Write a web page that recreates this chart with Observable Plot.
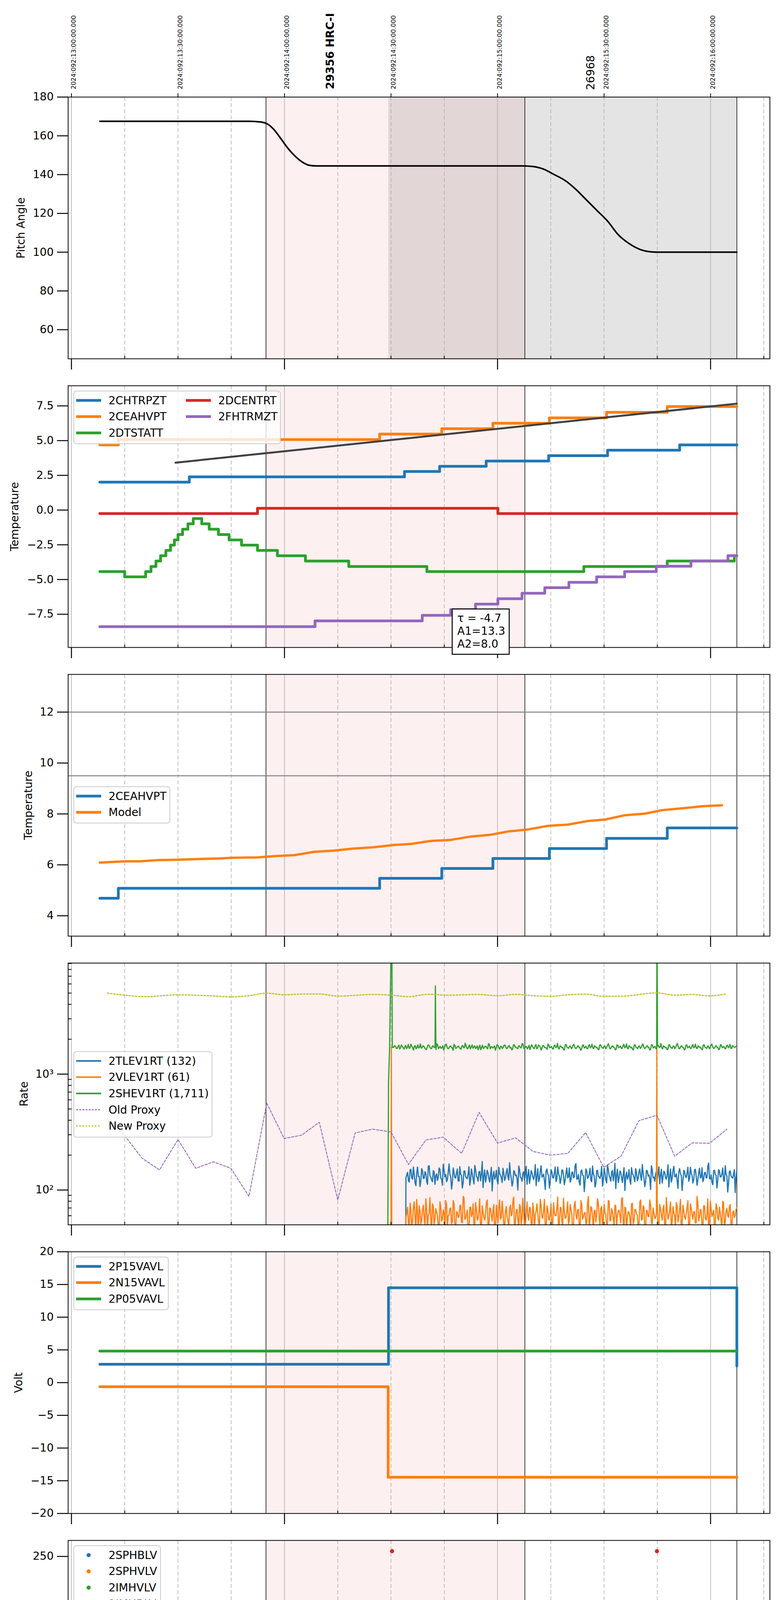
<!DOCTYPE html>
<html><head><meta charset="utf-8">
<script src="https://cdn.jsdelivr.net/npm/d3@7"></script>
<script src="https://cdn.jsdelivr.net/npm/@observablehq/plot@0.6"></script>
<style>
html,body{margin:0;padding:0;background:#fff;}
#root{position:relative;width:2000px;height:6200px;background:#fff;}
</style></head><body><div id="root"></div>
<script>
// ---------------- axis / layout constants ----------------
const FONT = "DejaVu Sans";
const W = 2000, ML = 174, MR = 29, FH = 670;
const X_DOMAIN = [-0.93, 196.7];             // minutes after 09:00 local (13:00 UTC)
const panelTops = [248, 987, 1726, 2465, 3204, 3943, 4682, 5421];

const hourTicks = [0, 60, 120, 180];
const quarterTicks = [15, 30, 45, 75, 90, 105, 135, 150, 165, 195];
const halfHourTicks = [0, 30, 60, 90, 120, 150, 180];
const topTickLabels = ["2024:092:13:00:00.000","2024:092:13:30:00.000","2024:092:14:00:00.000","2024:092:14:30:00.000","2024:092:15:00:00.000","2024:092:15:30:00.000","2024:092:16:00:00.000"];
const hourLabels = ["09h","10h","11h","12h"];
const minorLabels = ["15","30","45","15","30","45","15","30","45","15"];
const xLabel = "2024-04-01 (092)";
const obsBoldT = [71.75], obsBoldText = ["29356 HRC-I"];
const obsT = [145.1], obsText = ["26968"];

const spanPink = [54.8, 127.7];
const spanGrey = [89.3, 187.4];
const blackLines = [54.8, 127.7, 187.4];

// ---------------- panel 1: pitch ----------------
const pitchT = [8, 50, 53, 55, 57, 59, 61, 63, 65, 67, 69, 127, 130, 133, 136, 139, 142, 145, 148, 151, 154, 157, 160, 163, 165, 187.4];
const pitchV = [167.5, 167.5, 167.2, 166.3, 163.3, 158.5, 153.5, 149.5, 146.5, 144.8, 144.5, 144.5, 144.2, 142.8, 140, 137, 132.5, 127, 121.5, 116, 109, 104.5, 101.5, 100.2, 100, 100];

// ---------------- panel 2: temperatures ----------------
const chtrpzt = [[8.0,2.01],[33.2,2.39],[93.8,2.78],[103.7,3.15],[116.8,3.53],[134.4,3.92],[151.0,4.31],[171.3,4.69],[187.4,4.69]];
const ceahvpt = [[8.0,4.69],[13.2,5.08],[86.8,5.47],[104.3,5.86],[118.7,6.25],[134.6,6.64],[150.7,7.04],[167.8,7.45],[187.4,7.45]];
const dtstatt = [[8.0,-4.43],[15.0,-4.81],[20.9,-4.43],[22.4,-4.06],[23.8,-3.67],[25.1,-3.29],[26.6,-2.90],[27.9,-2.52],[29.0,-2.15],[30.0,-1.76],[31.3,-1.38],[32.8,-0.99],[34.3,-0.61],[36.7,-0.99],[38.8,-1.38],[41.4,-1.76],[44.4,-2.15],[47.9,-2.52],[52.4,-2.90],[58.0,-3.29],[65.9,-3.67],[78.1,-4.06],[100.1,-4.43],[144.3,-4.06],[167.8,-3.67],[186.7,-3.29],[187.4,-3.29]];
const dcentrt = [[8.0,-0.25],[52.4,0.13],[120.1,-0.25],[187.4,-0.25]];
const fhtrmzt = [[8.0,-8.39],[68.6,-7.98],[98.8,-7.58],[106.8,-7.17],[113.8,-6.77],[120.1,-6.38],[126.9,-5.99],[133.3,-5.59],[140.1,-5.20],[147.9,-4.81],[155.8,-4.43],[164.7,-4.04],[174.5,-3.66],[184.9,-3.28],[187.4,-3.28]];
const fitLine = [[29.3,3.41],[187.4,7.66]];
const fitText = ["τ = -4.7", "A1=13.3", "A2=8.0"];

// ---------------- panel 3: 2CEAHVPT vs model ----------------
const modelT = [8.0,15.0,19.2,24.8,30.0,36.0,41.4,45.8,52.4,57.1,62.7,68.3,73.9,79.5,85.1,90.7,95.6,101.2,106.8,112.4,118.0,122.9,128.6,134.2,139.8,145.4,150.3,155.9,161.5,166.4,172.0,177.6,183.2];
const modelV = [6.09,6.14,6.14,6.19,6.20,6.23,6.25,6.28,6.29,6.34,6.38,6.51,6.56,6.64,6.69,6.78,6.82,6.94,6.98,7.11,7.18,7.31,7.39,7.53,7.58,7.72,7.78,7.95,8.01,8.15,8.22,8.30,8.34];
const limitLines = [12, 9.5];

// ---------------- panel 4: rates ----------------
const tlev = [128,135,142,121,117,149,151,127,124,158,136,116,109,140,158,131,131,107,120,153,147,126,126,144,139,119,112,161,162,133,129,122,118,147,144,112,133,138,121,129,
155,150,127,124,110,167,149,130,136,118,123,143,168,136,130,102,115,155,141,128,127,141,152,120,119,159,137,134,104,115,146,146,131,127,125,137,159,110,122,152,
138,125,113,163,150,131,128,119,143,145,120,138,176,105,132,149,117,129,148,140,126,117,135,157,98,132,145,124,130,148,121,113,157,139,134,128,116,154,140,121,
127,142,153,130,122,172,139,126,108,117,147,144,133,135,124,100,161,151,129,127,119,139,144,122,136,160,112,133,150,114,128,147,141,129,123,136,166,109,131,153,
118,124,146,162,129,132,137,120,101,146,152,137,134,104,120,150,143,128,127,141,158,118,125,158,139,131,114,125,148,149,132,111,122,140,155,127,130,155,117,122,
142,143,128,129,163,169,124,125,136,116,110,145,149,134,133,97,121,152,145,126,129,138,154,121,118,161,138,132,106,113,147,148,131,130,126,135,160,108,123,154,
140,123,115,164,151,133,127,119,144,147,120,136,170,103,134,151,116,127,146,142,128,116,137,156,99,130,143,124,130,150,122,112,156,139,135,128,118,153,141,120,
126,144,152,131,121,166,140,126,107,118,148,146,132,135,125,101,162,149,128,129,119,137,145,123,137,159,113,134,151,115,129,145,142,128,124,138,165,106,130,152,
117,126,147,160,131,130,138,121,103,143,153,139,133,99,121,148,144,131,128,140,157,119,126,157,140,133,115,122,149,151,131,110,123,141,154,127,129,156,118,124,
141,142,127,128,161,171,125,125,135,117,111,147,148,136,134,104,120,150,146,130,130,138,155,120,119,162,137,132,96,114,145,146,132,129,127,137,150,95,128,149];
const vlev = [58,63,71,52,49,77,66,48,54,70,79,59,45,83,62,46,73,66,51,55,68,74,57,50,84,68,47,61,63,86,55,45,76,72,50,57,69,64,60,49,
44,79,72,54,56,67,65,44,81,75,48,60,61,69,70,51,53,81,77,47,46,65,64,58,59,73,74,53,52,88,86,56,57,62,67,43,43,71,71,59,
62,76,50,50,78,68,55,57,66,84,47,46,73,63,58,55,63,78,82,49,49,70,69,61,54,66,75,45,45,74,60,52,71,82,56,58,80,64,51,47,
65,72,59,54,48,69,74,60,62,80,87,44,53,67,68,56,46,75,72,51,57,85,64,48,50,63,79,59,55,71,70,53,44,77,66,46,61,66,76,62,
52,50,83,73,58,57,67,83,47,45,73,69,56,55,63,76,49,48,78,64,60,60,69,87,45,52,71,70,54,47,85,65,57,58,65,79,51,54,75,68,
62,43,48,74,80,61,56,67,68,49,46,81,74,56,59,63,64,51,52,78,88,46,55,72,70,59,43,66,67,53,61,84,77,57,50,69,72,45,58,75,
63,62,47,50,81,80,54,55,69,65,57,48,74,73,49,60,66,67,60,52,84,86,53,47,71,70,45,58,65,64,58,44,76,77,51,54,68,68,62,61,
48,49,79,82,55,56,73,71,46,46,67,66,59,59,82,75,52,51,70,63,57,57,64,85,44,48,75,69,61,55,69,74,50,45,86,67,56,60,66,79,
47,53,72,64,60,47,78,72,53,58,68,83,45,50,74,66,58,56,63,70,81,44,49,76,70,61,56,65,65,52,52,88,77,54,59,68,67,49,46,73,
73,57,55,62,84,46,50,80,69,59,62,67,48,51,76,71,57,55,71,64,54,48,80,78,47,53,66,69,60,58,72,75,51,47,64,66,58,60,68,70];
const shev = [1705,1698,1762,1744,1668,1663,1731,1780,1649,1687,1788,1729,1697,1641,1720,1771,1655,1708,1803,1668,1684,1812,1742,1694,1612,1737,1759,1652,1701,1790,1676,1703,1824,1676,1690,1759,1735,1685,1643,1628,
1716,1783,1779,1711,1662,1660,1748,1747,1695,1699,1631,1825,1797,1656,1708,1733,1670,1690,1753,1615,1689,1794,1816,1706,1657,1672,1726,1752,1702,1681,1604,1805,1768,1665,1683,1724,1744,1702,1661,1639,
1739,1769,1692,1688,1851,1745,1674,1658,1721,1787,1646,1714,1786,1670,1709,1756,1663,1693,1757,1621,1698,1778,1625,1700,1774,1666,1687,1741,1733,1684,1652,1830,1809,1653,1712,1727,1679,1709,1746,1608,
1694,1797,1766,1691,1638,1739,1728,1662,1700,1774,1783,1717,1659,1679,1741,1763,1685,1696,1620,1644,1792,1786,1706,1705,1672,1659,1755,1750,1690,1689,1834,1818,1666,1667,1723,1731,1648,1701,1771,1627,
1703,1792,1737,1683,1656,1743,1799,1655,1681,1781,1749,1712,1614,1674,1762,1757,1697,1697,1675,1633,1818,1776,1688,1708,1730,1664,1642,1748,1777,1692,1710,1843,1667,1650,1752,1735,1693,1704,1629,1617,
1790,1800,1704,1686,1671,1740,1745,1661,1686,1772,1812,1719,1660,1677,1725,1760,1699,1694,1606,1647,1772,1784,1682,1702,1740,1669,1654,1746,1795,1687,1713,1810,1678,1663,1758,1728,1691,1699,1637,1624,
1781,1791,1707,1690,1665,1742,1750,1657,1696,1779,1828,1713,1651,1673,1734,1754,1701,1698,1622,1636,1785,1775,1689,1709,1743,1666,1669,1751,1806,1684,1715,1821,1673,1658,1760,1734,1687,1703,1645,1612,
1775,1798,1702,1688,1658,1738,1747,1664,1694,1770,1821,1716,1663,1680,1729,1762,1705,1695,1611,1640,1793,1782,1684,1704,1738,1661,1650,1745,1770,1691,1718,1833,1676,1654,1756,1730,1692,1700,1634,1630,
1787,1789,1709,1685,1667,1741,1744,1659,1698,1777,1840,1718,1655,1675,1732,1758,1700,1693,1618,1643,1780,1785,1686,1707,1741,1668,1664,1749,1801,1686,1711,1815,1680,1662,1754,1726,1695,1702,1641,1621,
1773,1795,1706,1692,1661,1736,1749,1656,1690,1773,1814,1715,1670,1678,1727,1761,1703,1697,1626,1648,1796,1781,1688,1706,1736,1670,1653,1753,1779,1689,1716,1807,1674,1665,1761,1732,1702,1701,1745,1738];
const tlevRange = [94.2, 187.4], vlevRange = [94.2, 187.4], shevRange = [90.5, 187.4];
const tlevExtra = [[94.1,10]];
const vlevExtra = [[89.95,10],[90.1,1700],[90.25,10],[94.1,10],[164.85,1700]];
const shevExtra = [[89.0,10],[89.3,850],[89.6,1680],[90.2,30000],[90.35,1700],[102.5,5770],[164.9,30000]];
const oldProxy = [[10.1,403],[15.0,294],[19.9,188],[24.8,149],[30.0,273],[35.0,154],[40.0,175],[44.9,154],[50.0,88],[55.0,562],[59.9,278],[64.8,297],[69.8,384],[75.0,82],[79.9,311],[84.8,335],[90.0,317],[94.9,166],[99.8,270],[104.7,286],[109.9,207],[114.8,468],[120.0,254],[125.1,282],[130.0,215],[134.9,200],[139.8,207],[144.8,313],[149.9,157],[154.8,196],[159.8,396],[164.9,442],[169.9,196],[174.8,255],[179.7,253],[184.6,335]];
const newProxy = [[10.1,5000],[15.0,4800],[20.6,4660],[30.0,4830],[38.8,4745],[44.9,4640],[50.0,4745],[55.0,5000],[59.9,4830],[65.5,4915],[69.7,4915],[75.0,4710],[85.1,4865],[90.0,4800],[94.9,4660],[100.5,4880],[106.1,4800],[114.5,4865],[120.0,4745],[125.1,4880],[130.0,4745],[134.9,4695],[139.8,4830],[144.7,4900],[149.9,4695],[155.2,4710],[164.9,5020],[169.9,4800],[174.8,4865],[179.7,4730],[184.6,4930]];
const logMajor = [100, 1000];
const logMinor = [60,70,80,90,200,300,400,500,600,700,800,900,2000,3000,4000,5000,6000,7000,8000,9000];

// ---------------- panel 5: volts ----------------
const p15vavl = [[8.0,2.80],[89.3,14.49],[187.4,2.54]];
const n15vavl = [[8.0,-0.63],[89.2,-14.47],[187.4,-14.47]];
const p05vavl = [[8.0,4.82],[187.4,4.82]];

// ---------------- panel 6: HV monitor ----------------
const imhblvPts = [[90.3,255.4],[164.9,255.4],[90.7,126.9],[90.75,124],[90.9,118.9],[91.15,106],[91.25,104.5],[91.6,101],[92.2,97],[92.9,92.7],[93.4,89.3],[94.0,87],[171.3,79],[176.2,79],[176.4,79.5],[178.7,79],[181.8,80.4]];
const imhblvFlat = [[94.2,86],[187.4,86]];
const imhvlvPts = [[91.0,99.4],[91.6,95.6],[92.3,90.3],[92.9,86],[93.4,82.8],[93.8,80.2],[171.3,127],[176.2,127],[176.5,127],[178.7,127]];
const imhvlvFlat = [[94.2,79.2],[187.4,79.2]];

// ---------------- panel 7: detector temps ----------------
const spinatm = [[90.7,1.74],[171.3,-3],[171.6,1.74],[173.7,-3],[174.0,1.74],[174.5,-3],[174.8,1.74],[175.2,-3],[175.5,1.74],[176.2,-3],[176.5,1.74],[176.9,-3],[177.2,1.74],[179.0,-3],[179.3,1.74],[181.8,-3],[182.1,1.74],[182.8,-3],[183.1,1.74],[184.9,-3],[185.2,1.74],[187.2,-3],[187.4,-3]];
const sphvatm = [[89.6,-3],[89.7,13.36],[111.0,13.64],[135.3,14.01],[153.5,14.36],[169.9,14.70],[171.3,9.01],[171.6,14.70],[173.4,9.01],[173.7,14.70],[174.1,9.01],[174.6,14.70],[174.9,9.01],[175.6,14.70],[175.9,9.01],[176.2,14.70],[176.5,9.01],[177.0,14.70],[177.3,9.01],[177.6,14.70],[178.0,9.01],[178.4,14.70],[179.0,-3],[179.2,14.70],[179.7,9.01],[180.0,14.70],[181.3,9.01],[181.6,14.70],[182.2,9.01],[182.6,14.70],[183.1,9.01],[183.4,14.70],[184.9,9.01],[185.2,14.70],[186.7,9.01],[187.0,14.70],[187.4,14.70]];
const iminatm = [[90.7,-0.51],[164.3,-0.07],[168.2,-0.6],[168.5,-0.07],[171.3,1.82],[171.5,-0.07],[173.5,1.82],[173.7,-0.07],[174.1,1.82],[174.4,-0.07],[174.8,1.82],[175.0,-0.07],[175.4,1.82],[175.7,-0.07],[176.2,1.82],[176.5,-0.07],[177.3,1.82],[177.5,-0.07],[178.3,1.82],[178.5,-0.07],[179.0,-3],[179.3,-0.07],[181.8,1.82],[182.0,-0.07],[182.8,1.82],[183.0,-0.07],[184.9,1.82],[185.1,-0.07],[186.9,1.82],[187.4,1.82]];
const imhvatm = [[89.6,-3],[89.7,12.64],[96.7,12.96],[103.6,13.33],[109.6,13.67],[116.2,13.97],[122.9,14.32],[130.7,14.66],[139.1,14.99],[148.9,15.34],[159.1,15.68],[164.8,-3],[165.0,15.68],[169.9,16.05],[170.9,14.56],[171.2,16.05],[172.0,14.56],[172.3,16.05],[173.4,14.56],[173.6,16.05],[174.1,14.56],[174.3,16.05],[174.8,14.56],[175.0,16.05],[175.5,14.56],[175.7,16.05],[176.2,14.56],[176.4,16.05],[177.0,14.56],[177.2,16.05],[177.7,14.56],[177.9,16.05],[178.4,14.56],[178.6,16.05],[179.5,14.56],[179.7,16.05],[180.6,14.56],[180.8,16.05],[181.8,16.44],[182.8,14.56],[183.0,16.44],[183.6,14.56],[183.8,16.44],[185.3,14.56],[185.5,16.44],[187.0,14.9],[187.4,14.9]];

// ---------------- panel 8: FEA temps ----------------
const fradpyt = [[83.9,-10],[84.0,-9.19],[97.7,-8.80],[104.0,-8.39],[110.3,-7.98],[116.6,-7.58],[122.9,-7.18],[129.0,-6.78],[138.8,-6.38],[162.9,-5.99],[179.0,-10],[179.2,-5.99],[180.4,-5.59],[187.4,-5.59]];
const fepratm = [[89.6,-10],[89.7,-8.55],[91.4,-8.12],[94.2,-7.71],[96.6,-7.28],[99.4,-6.86],[102.9,-6.45],[107.1,-6.03],[111.7,-5.62],[117.1,-5.21],[122.9,-4.79],[128.8,-4.38],[135.3,-3.96],[142.2,-3.54],[149.6,-3.12],[157.7,-2.69],[164.8,-4.6],[165.0,-2.69],[166.4,-2.27],[174.5,-6.05],[174.7,-2.27],[175.5,-6.05],[175.7,-2.27],[176.9,-6.05],[177.1,-2.27],[178.3,-6.05],[178.5,-2.27],[179.1,-10],[179.4,-2.27],[180.4,-1.84],[181.4,-6.05],[181.6,-1.84],[182.8,-6.05],[183.0,-1.84],[184.9,-6.05],[185.1,-1.84],[187.0,-6.05],[187.4,-6.05]];
const fe00atm = [[89.6,-10],[89.7,-9.30],[93.8,-8.94],[100.2,-8.56],[105.1,-8.20],[110.1,-7.84],[114.8,-7.47],[119.6,-7.88],[119.8,-7.11],[124.4,-6.75],[129.3,-6.40],[134.2,-6.05],[136.6,-6.45],[136.8,-6.05],[140.1,-5.70],[145.7,-5.36],[152.1,-5.01],[158.7,-4.67],[164.8,-10],[165.0,-4.67],[166.0,-4.32],[171.0,-0.5],[171.2,-3.97],[173.4,-0.5],[173.6,-3.97],[173.8,-0.5],[174.0,-3.97],[174.2,-0.5],[174.4,-3.97],[174.6,-0.5],[174.8,-3.97],[175.0,-0.5],[175.2,-3.97],[175.4,-0.5],[175.6,-3.97],[175.8,-0.5],[176.0,-3.97],[176.2,-0.5],[176.5,-3.97],[176.9,-0.5],[177.1,-3.97],[177.6,-0.5],[177.8,-3.97],[178.5,-0.5],[178.7,-3.97],[179.0,-10],[179.2,-3.97],[179.8,-0.5],[180.0,-3.66],[181.1,-5.05],[181.3,-3.66],[181.8,-0.5],[182.0,-3.66],[183.1,-4.35],[183.3,-3.66],[184.2,-0.5],[184.4,-3.66],[186.0,-0.5],[186.2,-3.66],[187.2,-0.5],[187.4,-0.5]];

// ---------------- colours ----------------
const C = {blue:"#1f77b4", orange:"#ff7f0e", green:"#2ca02c", red:"#d62728", purple:"#9467bd", olive:"#bcbd22", fit:"#404040"};

// ---------------- helpers ----------------
const root = document.getElementById("root");
const pairs = a => a.map(([t, v]) => ({t, v}));
const zipTV = (T, V) => T.map((t, i) => ({t, v: V[i]}));
const sampled = (range, vals) => vals.map((v, i) => ({t: range[0] + (range[1] - range[0]) * i / (vals.length - 1), v}));
const merged = (range, vals, extra) => sampled(range, vals).concat(pairs(extra)).sort((a, b) => a.t - b.t);

function background(isFirst) {
  const m = [Plot.rect([spanPink], {x1: d => d[0], x2: d => d[1], fill: "#fdf0f0"})];
  if (isFirst) m.push(Plot.rect([spanGrey], {x1: d => d[0], x2: d => d[1], fill: "black", fillOpacity: 0.105}));
  m.push(Plot.ruleX(quarterTicks, {x: d => d, stroke: "#b0b0b0", strokeWidth: 1.6, strokeDasharray: "10,6"}));
  m.push(Plot.ruleX(hourTicks, {x: d => d, stroke: "#b0b0b0", strokeWidth: 1.6}));
  m.push(Plot.ruleX(blackLines, {x: d => d, stroke: "black", strokeWidth: 1.5}));
  return m;
}
const step = (data, color, w = 7, extra = {}) => Plot.line(pairs(data), {x: "t", y: "v", curve: "step-after", stroke: color, strokeWidth: w, ...extra});

function makePanel(i, opt) {
  const mt = i === 0 ? 248 : 25;
  const mb = i === 7 ? 109 : 44;
  const last = i === 7;
  const marks = [
    ...background(i === 0),
    ...opt.marks,
    Plot.frame({stroke: "black", strokeWidth: 2}),
    Plot.axisY(opt.yTicks, {tickSize: 28, tickPadding: 9, tickFormat: opt.yFmt, strokeWidth: 2.5, label: null}),
    Plot.axisX(hourTicks, {tickSize: 28, fill: "none", stroke: "black", strokeWidth: 2.5, label: null}),
    Plot.axisX(quarterTicks, last ? {tickSize: 8, fill: "none", stroke: "black", strokeWidth: 2, label: null}
                                  : {tickSize: 7, dy: -7, fill: "none", stroke: "black", strokeWidth: 2, label: null}),
    Plot.text([opt.yLabel], {text: d => d, frameAnchor: "left", dx: opt.labelX - ML, rotate: -90, textAnchor: "middle", fontSize: 28}),
    ...(opt.extra || [])
  ];
  const svg = Plot.plot({
    width: W, height: mt + FH + mb,
    marginLeft: ML, marginRight: MR, marginTop: mt, marginBottom: mb,
    style: {fontFamily: FONT, fontSize: "28px", color: "black", background: "white", overflow: "visible"},
    x: {domain: X_DOMAIN, label: null},
    y: {...opt.y, label: null},
    marks
  });
  svg.style.position = "absolute";
  svg.style.left = "0px";
  svg.style.top = (panelTops[i] - mt) + "px";
  svg.style.maxWidth = "none";
  root.appendChild(svg);
  if (opt.legend) drawLegend(svg, mt, opt.legend);
  return {svg, mt};
}

function drawLegend(svg, mt, L) {
  const g = d3.select(svg).append("g").attr("font-family", FONT).attr("font-size", 28).attr("text-anchor", "start");
  const boxTop = mt + (L.boxTop ?? 14);
  const rowTop = boxTop + 24;
  g.append("rect").attr("x", 189).attr("y", boxTop).attr("width", L.w).attr("height", L.h)
    .attr("rx", 7).attr("fill", "white").attr("fill-opacity", 0.8).attr("stroke", "#cccccc").attr("stroke-width", 2);
  const colX = [195, 476];
  L.items.forEach(it => {
    const col = it.col || 0, x0 = colX[col];
    const y = rowTop + 41.6 * it.row;
    if (it.kind === "dot") {
      g.append("circle").attr("cx", 227).attr("cy", y).attr("r", 5.3).attr("fill", it.color);
    } else {
      g.append("line").attr("x1", x0).attr("x2", x0 + 64).attr("y1", y).attr("y2", y)
        .attr("stroke", it.color).attr("stroke-width", it.lw || 7).attr("stroke-dasharray", it.dash || null);
    }
    g.append("text").attr("x", x0 + 83).attr("y", y).attr("dy", "0.35em").attr("text-anchor", "start").attr("fill", "black").text(it.label);
  });
}

// ---------------- panel 1 ----------------
makePanel(0, {
  y: {domain: [45, 180]}, yTicks: [60, 80, 100, 120, 140, 160, 180], yFmt: d3.format("d"),
  yLabel: "Pitch Angle", labelX: 54,
  marks: [Plot.line(zipTV(pitchT, pitchV), {x: "t", y: "v", curve: "monotone-x", stroke: "black", strokeWidth: 4})],
  extra: [
    Plot.axisX(halfHourTicks, {anchor: "top", tickSize: 10, fill: "none", stroke: "black", strokeWidth: 2, label: null}),
    Plot.text(halfHourTicks, {x: d => d, text: (d, i) => topTickLabels[i], frameAnchor: "top", dy: -20, rotate: -90, textAnchor: "start", fontSize: 16}),
    Plot.text(obsBoldT, {x: d => d, text: (d, i) => obsBoldText[i], frameAnchor: "top", dy: -20, rotate: -90, textAnchor: "start", fontSize: 28, fontWeight: "bold"}),
    Plot.text(obsT, {x: d => d, text: (d, i) => obsText[i], frameAnchor: "top", dy: -18, rotate: -90, textAnchor: "start", fontSize: 28})
  ]
});

// ---------------- panel 2 ----------------
const p2 = makePanel(1, {
  y: {domain: [-9.89, 8.95]}, yTicks: [-7.5, -5, -2.5, 0, 2.5, 5, 7.5], yFmt: d3.format(".1f"),
  yLabel: "Temperature", labelX: 38,
  marks: [
    step(chtrpzt, C.blue), step(ceahvpt, C.orange), step(dtstatt, C.green), step(dcentrt, C.red), step(fhtrmzt, C.purple),
    Plot.line(pairs(fitLine), {x: "t", y: "v", stroke: C.fit, strokeWidth: 5})
  ],
  legend: {w: 529, h: 135, items: [
    {label: "2CHTRPZT", color: C.blue, row: 0}, {label: "2CEAHVPT", color: C.orange, row: 1}, {label: "2DTSTATT", color: C.green, row: 2},
    {label: "2DCENTRT", color: C.red, row: 0, col: 1}, {label: "2FHTRMZT", color: C.purple, row: 1, col: 1}]}
});
{
  const g = d3.select(p2.svg).append("g").attr("font-family", FONT).attr("font-size", 28).attr("text-anchor", "start");
  const oy = panelTops[1] - p2.mt;
  g.append("rect").attr("x", 1158).attr("y", 1559 - oy).attr("width", 146).attr("height", 116)
    .attr("fill", "white").attr("stroke", "black").attr("stroke-width", 2.5);
  fitText.forEach((s, k) => g.append("text").attr("x", 1171).attr("y", 1592 - oy + 33 * k).attr("text-anchor", "start").attr("fill", "black").text(s));
}

// ---------------- panel 3 ----------------
makePanel(2, {
  y: {domain: [3.2, 13.48]}, yTicks: [4, 6, 8, 10, 12], yFmt: d3.format("d"),
  yLabel: "Temperature", labelX: 73,
  marks: [
    Plot.ruleY(limitLines, {y: d => d, stroke: "#808080", strokeWidth: 2.5}),
    step(ceahvpt, C.blue),
    Plot.line(zipTV(modelT, modelV), {x: "t", y: "v", stroke: C.orange, strokeWidth: 6})
  ],
  legend: {boxTop: 288, w: 246, h: 93, items: [{label: "2CEAHVPT", color: C.blue, row: 0}, {label: "Model", color: C.orange, row: 1}]}
});

// ---------------- panel 4 ----------------
makePanel(3, {
  y: {type: "log", domain: [50.1, 9077]}, yTicks: logMajor, yFmt: d => (d === 100 ? "10²" : "10³"),
  yLabel: "Rate", labelX: 62,
  marks: [
    Plot.ruleY(logMinor, {y: d => d, x1: X_DOMAIN[0], x2: X_DOMAIN[0] + 1.0, stroke: "black", strokeWidth: 2}),
    Plot.line(merged(tlevRange, tlev, tlevExtra), {x: "t", y: "v", stroke: C.blue, strokeWidth: 3, clip: true}),
    Plot.line(merged(vlevRange, vlev, vlevExtra), {x: "t", y: "v", stroke: C.orange, strokeWidth: 3, clip: true}),
    Plot.line(merged(shevRange, shev, shevExtra), {x: "t", y: "v", stroke: C.green, strokeWidth: 3, clip: true}),
    Plot.line(pairs(oldProxy), {x: "t", y: "v", stroke: C.purple, strokeWidth: 2.2, strokeDasharray: "6,4"}),
    Plot.line(pairs(newProxy), {x: "t", y: "v", stroke: C.olive, strokeWidth: 2.8, strokeDasharray: "4,4", curve: "monotone-x"})
  ],
  legend: {boxTop: 227, w: 354, h: 219, items: [
    {label: "2TLEV1RT (132)", color: C.blue, row: 0, lw: 4},
    {label: "2VLEV1RT (61)", color: C.orange, row: 1, lw: 4},
    {label: "2SHEV1RT (1,711)", color: C.green, row: 2, lw: 4},
    {label: "Old Proxy", color: C.purple, row: 3, lw: 2.8, dash: "5,3"},
    {label: "New Proxy", color: C.olive, row: 4, lw: 2.8, dash: "4,4"}]}
});

// ---------------- panel 5 ----------------
makePanel(4, {
  y: {domain: [-20, 20]}, yTicks: [-20, -15, -10, -5, 0, 5, 10, 15, 20], yFmt: d3.format("d"),
  yLabel: "Volt", labelX: 48,
  marks: [step(p15vavl, C.blue), step(n15vavl, C.orange), step(p05vavl, C.green)],
  legend: {w: 242, h: 135, items: [
    {label: "2P15VAVL", color: C.blue, row: 0}, {label: "2N15VAVL", color: C.orange, row: 1}, {label: "2P05VAVL", color: C.green, row: 2}]}
});

// ---------------- panel 6 ----------------
makePanel(5, {
  y: {domain: [0, 266.3]}, yTicks: [0, 50, 100, 150, 200, 250], yFmt: d3.format("d"),
  yLabel: "HV Monitor", labelX: 54,
  marks: [
    Plot.line(pairs(imhvlvFlat), {x: "t", y: "v", stroke: C.green, strokeWidth: 10.6, strokeLinecap: "round"}),
    Plot.dot(pairs(imhvlvPts), {x: "t", y: "v", r: 5.3, fill: C.green}),
    Plot.line(pairs(imhblvFlat), {x: "t", y: "v", stroke: C.red, strokeWidth: 10.6, strokeLinecap: "round"}),
    Plot.dot(pairs(imhblvPts), {x: "t", y: "v", r: 5.3, fill: C.red})
  ],
  legend: {w: 222, h: 175, items: [
    {label: "2SPHBLV", color: C.blue, row: 0, kind: "dot"}, {label: "2SPHVLV", color: C.orange, row: 1, kind: "dot"},
    {label: "2IMHVLV", color: C.green, row: 2, kind: "dot"}, {label: "2IMHBLV", color: C.red, row: 3, kind: "dot"}]}
});

// ---------------- panel 7 ----------------
makePanel(6, {
  y: {domain: [-2.03, 17.18]}, yTicks: [0, 2.5, 5, 7.5, 10, 12.5, 15], yFmt: d3.format(".1f"),
  yLabel: "Detector Temp", labelX: 46,
  marks: [
    step(spinatm, C.blue, 6.5, {clip: true}), step(sphvatm, C.orange, 6.5, {clip: true}),
    step(iminatm, C.green, 6.5, {clip: true}), step(imhvatm, C.red, 6.5, {clip: true})
  ],
  legend: {w: 246, h: 176, items: [
    {label: "2SPINATM", color: C.blue, row: 0}, {label: "2SPHVATM", color: C.orange, row: 1},
    {label: "2IMINATM", color: C.green, row: 2}, {label: "2IMHVATM", color: C.red, row: 3}]}
});

// ---------------- panel 8 ----------------
makePanel(7, {
  y: {domain: [-9.48, -1.20]}, yTicks: [-9, -8, -7, -6, -5, -4, -3, -2], yFmt: d3.format("d"),
  yLabel: "FEA Temp", labelX: 68,
  marks: [
    step(fhtrmzt, C.blue, 6.5, {clip: true}), step(fradpyt, C.orange, 6.5, {clip: true}),
    step(fepratm, C.green, 6.5, {clip: true}), step(fe00atm, C.red, 6.5, {clip: true})
  ],
  legend: {w: 250, h: 176, items: [
    {label: "2FHTRMZT", color: C.blue, row: 0}, {label: "2FRADPYT", color: C.orange, row: 1},
    {label: "2FEPRATM", color: C.green, row: 2}, {label: "2FE00ATM", color: C.red, row: 3}]},
  extra: [
    Plot.text(hourTicks, {x: d => d, text: (d, i) => hourLabels[i], frameAnchor: "bottom", dy: 59, lineAnchor: "bottom", fontSize: 28}),
    Plot.text(quarterTicks, {x: d => d, text: (d, i) => minorLabels[i], frameAnchor: "bottom", dy: 22, lineAnchor: "bottom", fontSize: 18}),
    Plot.text([xLabel], {text: d => d, frameAnchor: "bottom", dy: 97, lineAnchor: "bottom", fontSize: 28})
  ]
});
</script></body></html>
